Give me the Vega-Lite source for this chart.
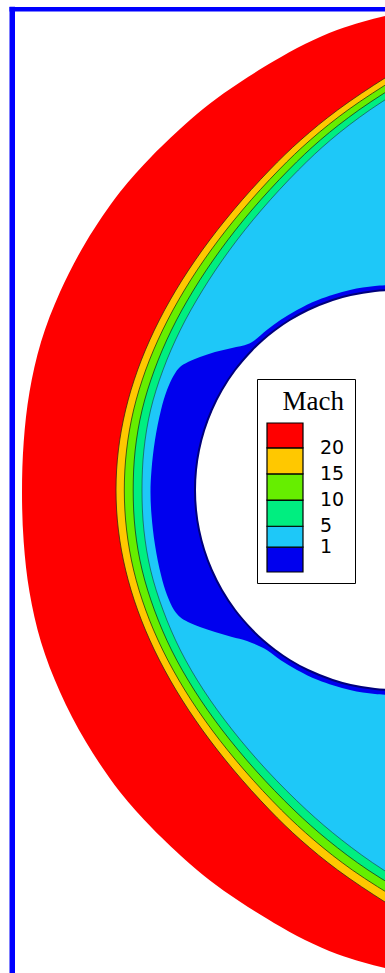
{
  "$schema": "https://vega.github.io/schema/vega-lite/v6.json",
  "width": 385,
  "height": 973,
  "autosize": {"type": "none"},
  "padding": 0,
  "background": "white",
  "config": {"view": {"stroke": null}},
  "datasets": {
    "contours": [
      {"region": "R", "mach": 25, "y": 9, "x": 425},
      {"region": "R", "mach": 25, "y": 12, "x": 405},
      {"region": "R", "mach": 25, "y": 16, "x": 385},
      {"region": "R", "mach": 25, "y": 22, "x": 362},
      {"region": "R", "mach": 25, "y": 30, "x": 337},
      {"region": "R", "mach": 25, "y": 44, "x": 305},
      {"region": "R", "mach": 25, "y": 61, "x": 274},
      {"region": "R", "mach": 25, "y": 77, "x": 248},
      {"region": "R", "mach": 25, "y": 99, "x": 216},
      {"region": "R", "mach": 25, "y": 120, "x": 190},
      {"region": "R", "mach": 25, "y": 156, "x": 152},
      {"region": "R", "mach": 25, "y": 192, "x": 120},
      {"region": "R", "mach": 25, "y": 242, "x": 86},
      {"region": "R", "mach": 25, "y": 292, "x": 60},
      {"region": "R", "mach": 25, "y": 342, "x": 41},
      {"region": "R", "mach": 25, "y": 392, "x": 29.5},
      {"region": "R", "mach": 25, "y": 442, "x": 23.7},
      {"region": "R", "mach": 25, "y": 492, "x": 22},
      {"region": "R", "mach": 25, "y": 542, "x": 23.7},
      {"region": "R", "mach": 25, "y": 592, "x": 29.5},
      {"region": "R", "mach": 25, "y": 642, "x": 41},
      {"region": "R", "mach": 25, "y": 692, "x": 60},
      {"region": "R", "mach": 25, "y": 742, "x": 86},
      {"region": "R", "mach": 25, "y": 792, "x": 120},
      {"region": "R", "mach": 25, "y": 828, "x": 152},
      {"region": "R", "mach": 25, "y": 864, "x": 190},
      {"region": "R", "mach": 25, "y": 885, "x": 216},
      {"region": "R", "mach": 25, "y": 907, "x": 248},
      {"region": "R", "mach": 25, "y": 923, "x": 274},
      {"region": "R", "mach": 25, "y": 940, "x": 305},
      {"region": "R", "mach": 25, "y": 954, "x": 337},
      {"region": "R", "mach": 25, "y": 962, "x": 362},
      {"region": "R", "mach": 25, "y": 968, "x": 385},
      {"region": "R", "mach": 25, "y": 972, "x": 405},
      {"region": "R", "mach": 25, "y": 975, "x": 425},

      {"region": "S0", "mach": 17.5, "y": 60, "x": 415.4},
      {"region": "S0", "mach": 17.5, "y": 78, "x": 385},
      {"region": "S0", "mach": 17.5, "y": 110, "x": 337.6},
      {"region": "S0", "mach": 17.5, "y": 140, "x": 300.75},
      {"region": "S0", "mach": 17.5, "y": 170, "x": 269.6},
      {"region": "S0", "mach": 17.5, "y": 210, "x": 233.6},
      {"region": "S0", "mach": 17.5, "y": 250, "x": 202.4},
      {"region": "S0", "mach": 17.5, "y": 290, "x": 176},
      {"region": "S0", "mach": 17.5, "y": 330, "x": 154.4},
      {"region": "S0", "mach": 17.5, "y": 370, "x": 137.6},
      {"region": "S0", "mach": 17.5, "y": 410, "x": 125.6},
      {"region": "S0", "mach": 17.5, "y": 450, "x": 118.4},
      {"region": "S0", "mach": 17.5, "y": 490, "x": 116},
      {"region": "S0", "mach": 17.5, "y": 530, "x": 118.4},
      {"region": "S0", "mach": 17.5, "y": 570, "x": 125.6},
      {"region": "S0", "mach": 17.5, "y": 610, "x": 137.6},
      {"region": "S0", "mach": 17.5, "y": 650, "x": 154.4},
      {"region": "S0", "mach": 17.5, "y": 690, "x": 176},
      {"region": "S0", "mach": 17.5, "y": 730, "x": 202.4},
      {"region": "S0", "mach": 17.5, "y": 770, "x": 233.6},
      {"region": "S0", "mach": 17.5, "y": 810, "x": 269.6},
      {"region": "S0", "mach": 17.5, "y": 840, "x": 300.75},
      {"region": "S0", "mach": 17.5, "y": 870, "x": 337.6},
      {"region": "S0", "mach": 17.5, "y": 902, "x": 385},
      {"region": "S0", "mach": 17.5, "y": 920, "x": 415.4},

      {"region": "S1", "mach": 12.5, "y": 60, "x": 427.6},
      {"region": "S1", "mach": 12.5, "y": 78, "x": 396.5},
      {"region": "S1", "mach": 12.5, "y": 110, "x": 347.9},
      {"region": "S1", "mach": 12.5, "y": 140, "x": 310.3},
      {"region": "S1", "mach": 12.5, "y": 170, "x": 278.8},
      {"region": "S1", "mach": 12.5, "y": 210, "x": 242.5},
      {"region": "S1", "mach": 12.5, "y": 250, "x": 211.1},
      {"region": "S1", "mach": 12.5, "y": 290, "x": 184.5},
      {"region": "S1", "mach": 12.5, "y": 330, "x": 162.7},
      {"region": "S1", "mach": 12.5, "y": 370, "x": 145.7},
      {"region": "S1", "mach": 12.5, "y": 410, "x": 133.6},
      {"region": "S1", "mach": 12.5, "y": 450, "x": 126.6},
      {"region": "S1", "mach": 12.5, "y": 490, "x": 124.3},
      {"region": "S1", "mach": 12.5, "y": 530, "x": 126.6},
      {"region": "S1", "mach": 12.5, "y": 570, "x": 133.6},
      {"region": "S1", "mach": 12.5, "y": 610, "x": 145.7},
      {"region": "S1", "mach": 12.5, "y": 650, "x": 162.7},
      {"region": "S1", "mach": 12.5, "y": 690, "x": 184.8},
      {"region": "S1", "mach": 12.5, "y": 730, "x": 212},
      {"region": "S1", "mach": 12.5, "y": 770, "x": 244.2},
      {"region": "S1", "mach": 12.5, "y": 810, "x": 281.4},
      {"region": "S1", "mach": 12.5, "y": 840, "x": 313.9},
      {"region": "S1", "mach": 12.5, "y": 870, "x": 352.3},
      {"region": "S1", "mach": 12.5, "y": 902, "x": 402.6},
      {"region": "S1", "mach": 12.5, "y": 920, "x": 434.6},

      {"region": "S2", "mach": 7.5, "y": 60, "x": 440.5},
      {"region": "S2", "mach": 7.5, "y": 78, "x": 408.7},
      {"region": "S2", "mach": 7.5, "y": 110, "x": 358.9},
      {"region": "S2", "mach": 7.5, "y": 140, "x": 320.4},
      {"region": "S2", "mach": 7.5, "y": 170, "x": 288.6},
      {"region": "S2", "mach": 7.5, "y": 210, "x": 251.9},
      {"region": "S2", "mach": 7.5, "y": 250, "x": 220.4},
      {"region": "S2", "mach": 7.5, "y": 290, "x": 193.6},
      {"region": "S2", "mach": 7.5, "y": 330, "x": 171.5},
      {"region": "S2", "mach": 7.5, "y": 370, "x": 154.4},
      {"region": "S2", "mach": 7.5, "y": 410, "x": 142.1},
      {"region": "S2", "mach": 7.5, "y": 450, "x": 135.2},
      {"region": "S2", "mach": 7.5, "y": 490, "x": 133.2},
      {"region": "S2", "mach": 7.5, "y": 530, "x": 135.2},
      {"region": "S2", "mach": 7.5, "y": 570, "x": 142.1},
      {"region": "S2", "mach": 7.5, "y": 610, "x": 154.4},
      {"region": "S2", "mach": 7.5, "y": 650, "x": 171.5},
      {"region": "S2", "mach": 7.5, "y": 690, "x": 194.2},
      {"region": "S2", "mach": 7.5, "y": 730, "x": 222.2},
      {"region": "S2", "mach": 7.5, "y": 770, "x": 255.4},
      {"region": "S2", "mach": 7.5, "y": 810, "x": 294},
      {"region": "S2", "mach": 7.5, "y": 840, "x": 327.8},
      {"region": "S2", "mach": 7.5, "y": 870, "x": 368},
      {"region": "S2", "mach": 7.5, "y": 902, "x": 421.3},
      {"region": "S2", "mach": 7.5, "y": 920, "x": 455},

      {"region": "S3", "mach": 3, "y": 60, "x": 453.4},
      {"region": "S3", "mach": 3, "y": 78, "x": 420.9},
      {"region": "S3", "mach": 3, "y": 110, "x": 369.8},
      {"region": "S3", "mach": 3, "y": 140, "x": 330.6},
      {"region": "S3", "mach": 3, "y": 170, "x": 298.4},
      {"region": "S3", "mach": 3, "y": 210, "x": 261.4},
      {"region": "S3", "mach": 3, "y": 250, "x": 229.6},
      {"region": "S3", "mach": 3, "y": 290, "x": 202.7},
      {"region": "S3", "mach": 3, "y": 330, "x": 180.3},
      {"region": "S3", "mach": 3, "y": 370, "x": 163},
      {"region": "S3", "mach": 3, "y": 410, "x": 150.6},
      {"region": "S3", "mach": 3, "y": 450, "x": 143.9},
      {"region": "S3", "mach": 3, "y": 490, "x": 142},
      {"region": "S3", "mach": 3, "y": 530, "x": 143.9},
      {"region": "S3", "mach": 3, "y": 570, "x": 150.6},
      {"region": "S3", "mach": 3, "y": 610, "x": 163},
      {"region": "S3", "mach": 3, "y": 650, "x": 180.3},
      {"region": "S3", "mach": 3, "y": 690, "x": 203.5},
      {"region": "S3", "mach": 3, "y": 730, "x": 232.4},
      {"region": "S3", "mach": 3, "y": 770, "x": 266.6},
      {"region": "S3", "mach": 3, "y": 810, "x": 306.6},
      {"region": "S3", "mach": 3, "y": 840, "x": 341.75},
      {"region": "S3", "mach": 3, "y": 870, "x": 383.6},
      {"region": "S3", "mach": 3, "y": 902, "x": 440},
      {"region": "S3", "mach": 3, "y": 920, "x": 475.4},

      {"region": "B", "mach": 0.5, "y": 285, "x": 395},
      {"region": "B", "mach": 0.5, "y": 286, "x": 375},
      {"region": "B", "mach": 0.5, "y": 290, "x": 350},
      {"region": "B", "mach": 0.5, "y": 300, "x": 318},
      {"region": "B", "mach": 0.5, "y": 310, "x": 297},
      {"region": "B", "mach": 0.5, "y": 320, "x": 280.4},
      {"region": "B", "mach": 0.5, "y": 330, "x": 266.8},
      {"region": "B", "mach": 0.5, "y": 340, "x": 255},
      {"region": "B", "mach": 0.5, "y": 344, "x": 248},
      {"region": "B", "mach": 0.5, "y": 348, "x": 232},
      {"region": "B", "mach": 0.5, "y": 352, "x": 215},
      {"region": "B", "mach": 0.5, "y": 357, "x": 200},
      {"region": "B", "mach": 0.5, "y": 362, "x": 188},
      {"region": "B", "mach": 0.5, "y": 367, "x": 180},
      {"region": "B", "mach": 0.5, "y": 375, "x": 174},
      {"region": "B", "mach": 0.5, "y": 390, "x": 167},
      {"region": "B", "mach": 0.5, "y": 410, "x": 161},
      {"region": "B", "mach": 0.5, "y": 440, "x": 155},
      {"region": "B", "mach": 0.5, "y": 470, "x": 151.5},
      {"region": "B", "mach": 0.5, "y": 492, "x": 150.5},
      {"region": "B", "mach": 0.5, "y": 515, "x": 151.5},
      {"region": "B", "mach": 0.5, "y": 545, "x": 155},
      {"region": "B", "mach": 0.5, "y": 575, "x": 161},
      {"region": "B", "mach": 0.5, "y": 595, "x": 167},
      {"region": "B", "mach": 0.5, "y": 610, "x": 174},
      {"region": "B", "mach": 0.5, "y": 617, "x": 180},
      {"region": "B", "mach": 0.5, "y": 622, "x": 188},
      {"region": "B", "mach": 0.5, "y": 627, "x": 200},
      {"region": "B", "mach": 0.5, "y": 632, "x": 215},
      {"region": "B", "mach": 0.5, "y": 637, "x": 232},
      {"region": "B", "mach": 0.5, "y": 641, "x": 247},
      {"region": "B", "mach": 0.5, "y": 650, "x": 266.8},
      {"region": "B", "mach": 0.5, "y": 660, "x": 280.4},
      {"region": "B", "mach": 0.5, "y": 670, "x": 297},
      {"region": "B", "mach": 0.5, "y": 680, "x": 318},
      {"region": "B", "mach": 0.5, "y": 690, "x": 350},
      {"region": "B", "mach": 0.5, "y": 694, "x": 375},
      {"region": "B", "mach": 0.5, "y": 695, "x": 395}
    ],
    "body": [
      {"y": 290, "x": 395},
      {"y": 291, "x": 375},
      {"y": 295, "x": 350.6},
      {"y": 300, "x": 332.6},
      {"y": 310, "x": 307.8},
      {"y": 320, "x": 289.6},
      {"y": 330, "x": 275},
      {"y": 340, "x": 262.7},
      {"y": 350, "x": 252.2},
      {"y": 370, "x": 235},
      {"y": 390, "x": 221.8},
      {"y": 410, "x": 211.7},
      {"y": 430, "x": 204.2},
      {"y": 450, "x": 199},
      {"y": 470, "x": 196},
      {"y": 490, "x": 195},
      {"y": 510, "x": 196},
      {"y": 530, "x": 199},
      {"y": 550, "x": 204.2},
      {"y": 570, "x": 211.7},
      {"y": 590, "x": 221.8},
      {"y": 610, "x": 235},
      {"y": 630, "x": 252.2},
      {"y": 640, "x": 262.7},
      {"y": 650, "x": 275},
      {"y": 660, "x": 289.6},
      {"y": 670, "x": 307.8},
      {"y": 680, "x": 332.6},
      {"y": 685, "x": 350.6},
      {"y": 689, "x": 375},
      {"y": 690, "x": 395}
    ]
  },
  "layer": [
    {
      "data": {"name": "contours"},
      "encoding": {
        "y": {"field": "y", "type": "quantitative", "axis": null, "scale": {"domain": [0, 973], "reverse": true, "nice": false, "zero": false}},
        "x": {"field": "x", "type": "quantitative", "axis": null, "scale": {"domain": [0, 385], "nice": false, "zero": false}},
        "x2": {"datum": 440},
        "color": {
          "field": "mach",
          "type": "quantitative",
          "scale": {"type": "threshold", "domain": [1, 5, 10, 15, 20], "range": ["#0000EE", "#1EC8F8", "#00EE80", "#66EE00", "#FFC800", "#FF0000"]},
          "legend": {
            "type": "gradient",
            "direction": "vertical",
            "orient": "none",
            "legendX": 257,
            "legendY": 379,
            "title": "Mach",
            "titleFont": "Liberation Serif",
            "titleFontSize": 27,
            "titleFontWeight": "normal",
            "titleColor": "black",
            "titleAnchor": "end",
            "titlePadding": 7,
            "gradientLength": 149,
            "gradientThickness": 36,
            "gradientStrokeColor": "black",
            "gradientStrokeWidth": 1.2,
            "labelFont": "DejaVu Sans",
            "labelFontSize": 19,
            "labelColor": "black",
            "labelOffset": 17,
            "labelOverlap": false,
            "padding": 10,
            "fillColor": "white",
            "strokeColor": "black"
          }
        }
      },
      "layer": [
        {"transform": [{"filter": "datum.region === 'R'"}], "mark": {"type": "area", "orient": "horizontal", "interpolate": "catmull-rom", "clip": true}},
        {"transform": [{"filter": "datum.region === 'S0'"}], "mark": {"type": "area", "orient": "horizontal", "interpolate": "catmull-rom", "clip": true, "stroke": "#3a2a10", "strokeWidth": 1, "strokeOpacity": 0.8}},
        {"transform": [{"filter": "datum.region === 'S1'"}], "mark": {"type": "area", "orient": "horizontal", "interpolate": "catmull-rom", "clip": true, "stroke": "#2a3a10", "strokeWidth": 1, "strokeOpacity": 0.8}},
        {"transform": [{"filter": "datum.region === 'S2'"}], "mark": {"type": "area", "orient": "horizontal", "interpolate": "catmull-rom", "clip": true, "stroke": "#1a3a20", "strokeWidth": 1, "strokeOpacity": 0.8}},
        {"transform": [{"filter": "datum.region === 'S3'"}], "mark": {"type": "area", "orient": "horizontal", "interpolate": "catmull-rom", "clip": true, "stroke": "#1a3a40", "strokeWidth": 1, "strokeOpacity": 0.6}},
        {"transform": [{"filter": "datum.region === 'B'"}], "mark": {"type": "area", "orient": "horizontal", "interpolate": "catmull-rom", "clip": true}}
      ]
    },
    {
      "data": {"name": "body"},
      "mark": {"type": "area", "orient": "horizontal", "interpolate": "catmull-rom", "clip": true, "fill": "white", "stroke": "#00007a", "strokeWidth": 2},
      "encoding": {
        "y": {"field": "y", "type": "quantitative", "axis": null, "scale": {"domain": [0, 973], "reverse": true, "nice": false, "zero": false}},
        "x": {"field": "x", "type": "quantitative", "axis": null, "scale": {"domain": [0, 385], "nice": false, "zero": false}},
        "x2": {"datum": 440}
      }
    },
    {
      "data": {"values": [{}]},
      "mark": {"type": "rule", "color": "#0000FF", "strokeWidth": 5.5, "strokeCap": "butt"},
      "encoding": {
        "x": {"datum": 12.25, "type": "quantitative"},
        "y": {"datum": 6.75, "type": "quantitative"},
        "y2": {"datum": 973}
      }
    },
    {
      "data": {"values": [{}]},
      "mark": {"type": "rule", "color": "#0000FF", "strokeWidth": 4.5, "strokeCap": "butt"},
      "encoding": {
        "y": {"datum": 9.25, "type": "quantitative"},
        "x": {"datum": 9.5, "type": "quantitative"},
        "x2": {"datum": 385}
      }
    }
  ]
}
